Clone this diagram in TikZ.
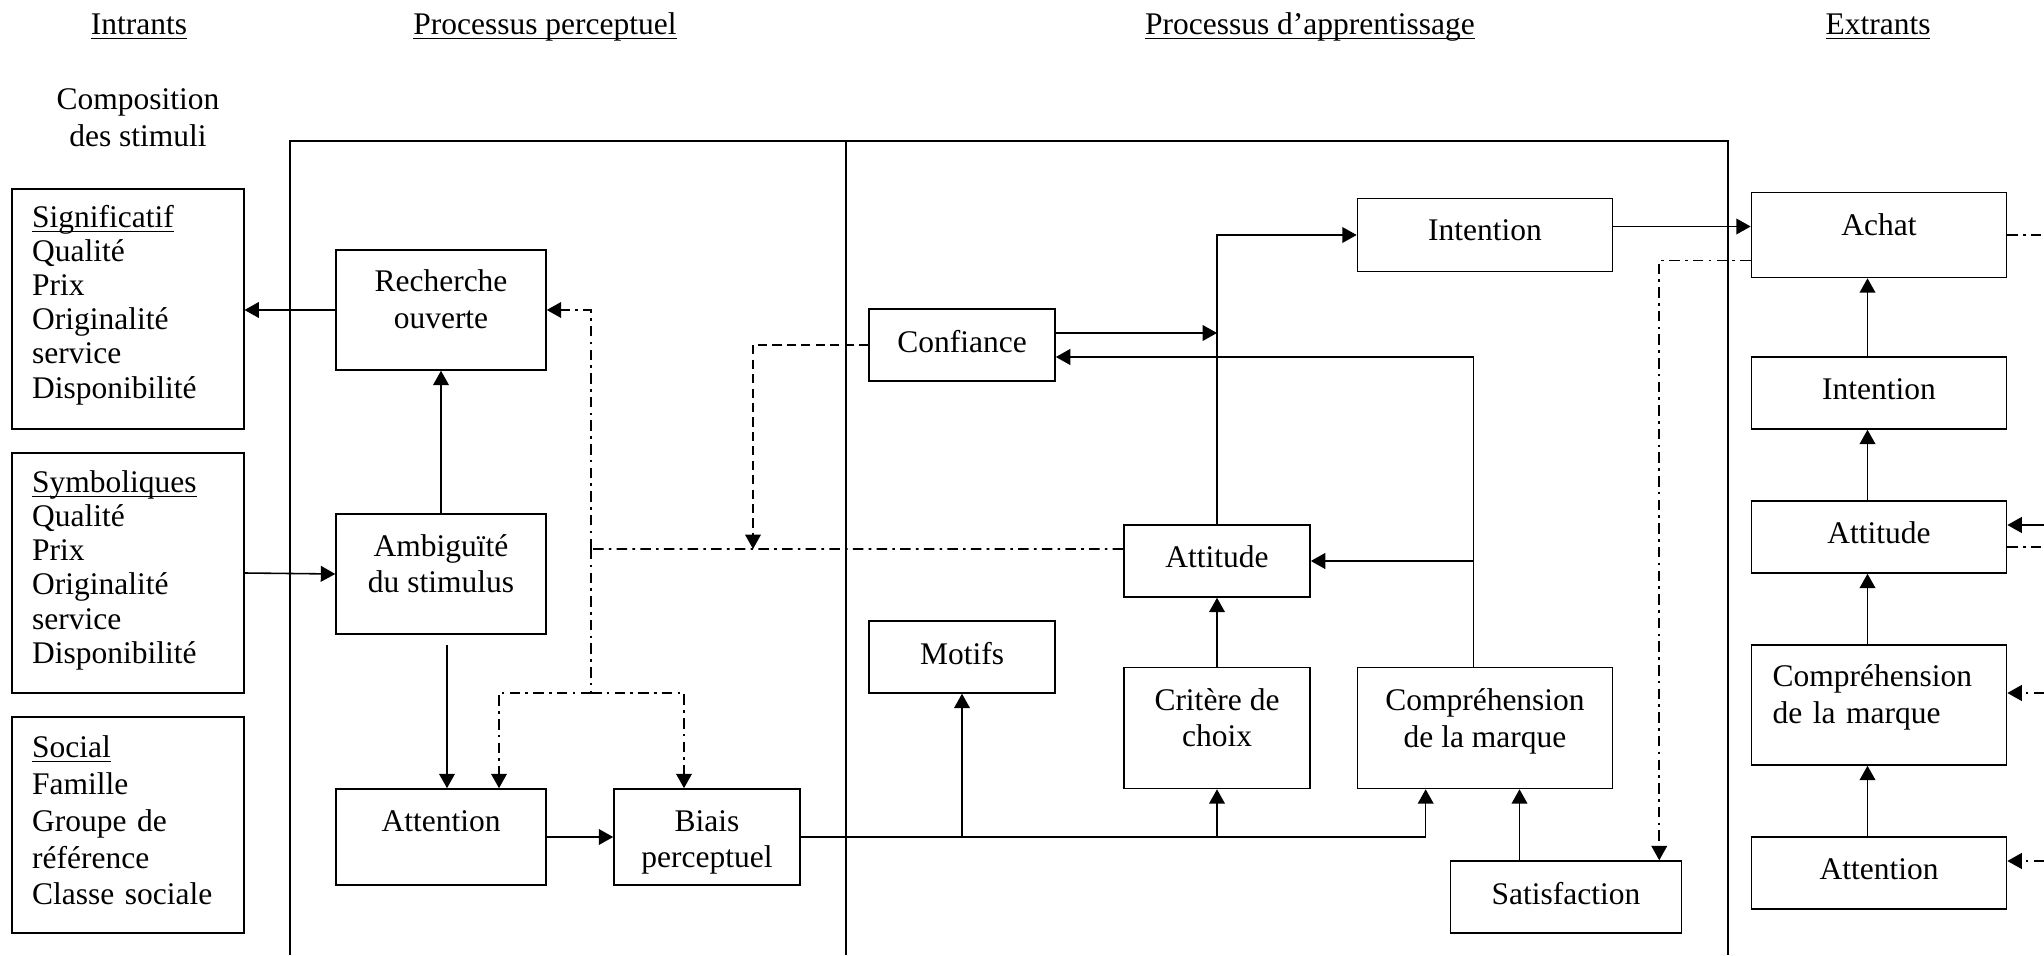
\documentclass[tikz,border=0pt]{standalone}
\usepackage{fontspec}
\setmainfont{Liberation Serif}
\usetikzlibrary{arrows.meta,calc}

\newcommand\souligne[1]{\underline{\raisebox{0pt}[\height][0pt]{#1}}}
\newcommand\fond[1]{\rule[-#1]{0pt}{#1}}

\begin{document}
\begin{tikzpicture}[x=1.3393cm, y=1.3393cm,
        font=\fontsize{12}{14}\selectfont,
        boite/.style={draw, line width=0.6pt, inner sep=0pt, align=center},
        liste/.style={draw, line width=0.6pt, inner xsep=7.6pt, inner ysep=0pt,
            text width=73pt, align=left, minimum height=#1, font=\fontsize{12}{13}\selectfont},
        lien/.style={line width=0.6pt},
        arr/.style={line width=0.6pt, -{Triangle[length=5.5pt,width=6pt]}},
        tiret/.style={line width=0.6pt, dash pattern=on 3.5pt off 2pt},
        tpoint/.style={line width=0.6pt, dash pattern=on 4pt off 2pt on 1pt off 2pt}]
        \useasboundingbox (0,0) rectangle (20.44,9.55);

        % cadre
        \draw [lien] (2.90,0) -- (2.90,8.14) -- (17.28,8.14) -- (17.28,0);
        \draw [lien] (8.46,0) -- (8.46,8.14);

        % titres
        \node [anchor=base] (titin) at (1.39,9.20) {\souligne{Intrants}};
        \node [anchor=base] (titperc) at (5.45,9.20) {\souligne{Processus perceptuel}};
        \node [anchor=base] (titapp) at (13.10,9.20) {\souligne{Processus d’apprentissage}};
        \node [anchor=base] (titext) at (18.78,9.20) {\souligne{Extrants}};
        \node [align=center] (compo) at (1.38,8.37) {Composition\\des stimuli};

        % intrants
        \node [liste=91.4pt] (sig) at (1.28,6.46) {\souligne{Significatif}\\Qualité\\Prix\\Originalité\\service\\Disponibilité\fond{5.6pt}};
        \node [liste=91.4pt] (sym) at (1.28,3.82) {\souligne{Symboliques}\\Qualité\\Prix\\Originalité\\service\\Disponibilité\fond{4.6pt}};
        \node [liste=82.3pt, font=\fontsize{12}{14}\selectfont] (soc) at (1.28,1.30) {\souligne{Social}\\Famille\\Groupe de\\référence\\Classe sociale\fond{3.4pt}};

        % processus perceptuel
        \node [boite, minimum width=80pt, minimum height=45.7pt] (rech) at (4.41,6.45) {Recherche\\ouverte\fond{8.5pt}};
        \node [boite, minimum width=80pt, minimum height=45.7pt] (ambig) at (4.41,3.81) {Ambiguïté\\du stimulus\fond{8pt}};
        \node [boite, minimum width=80pt, minimum height=36.6pt] (attp) at (4.41,1.18) {Attention\fond{12pt}};
        \node [boite, minimum width=70.9pt, minimum height=36.6pt] (biais) at (7.07,1.18) {\rule{0pt}{12pt}Biais\\perceptuel};

        % processus d'apprentissage
        \node [boite, minimum width=70.9pt, minimum height=27.4pt] (conf) at (9.62,6.10) {Confiance\fond{3pt}};
        \node [boite, minimum width=70.9pt, minimum height=27.4pt] (motifs) at (9.62,2.98) {Motifs\fond{3pt}};
        \node [boite, minimum width=97.2pt, minimum height=27.8pt] (intm) at (14.85,7.20) {Intention\fond{4pt}};
        \node [boite, minimum width=70.9pt, minimum height=27.4pt] (attm) at (12.17,3.94) {Attitude\fond{3pt}};
        \node [boite, minimum width=70.9pt, minimum height=46.1pt] (crit) at (12.17,2.27) {Critère de\\choix\fond{8pt}};
        \node [boite, minimum width=97.2pt, minimum height=46.1pt] (compm) at (14.85,2.27) {Compréhension\\de la marque\fond{7.6pt}};
        \node [boite, minimum width=88pt, minimum height=27.4pt] (satis) at (15.66,0.58) {Satisfaction\fond{3pt}};

        % extrants
        \node [boite, minimum width=97.2pt, minimum height=32.4pt] (achat) at (18.79,7.20) {Achat\fond{8pt}};
        \node [boite, minimum width=97.2pt, minimum height=27.4pt] (intr) at (18.79,5.62) {Intention\fond{3pt}};
        \node [boite, minimum width=97.2pt, minimum height=27.4pt] (attr) at (18.79,4.18) {Attitude\fond{3pt}};
        \node [boite, minimum width=97.2pt, minimum height=45.7pt, text width=81pt, align=left, inner xsep=8pt] (compr) at (18.79,2.50) {Compréhension\\de la marque\fond{8.6pt}};
        \node [boite, minimum width=97.2pt, minimum height=27.4pt] (attnr) at (18.79,0.82) {Attention\fond{3pt}};

        \coordinate (bord) at (20.44,0);
        \coordinate (fbl) at (5.91,4.06);
        \coordinate (fork) at (5.91,2.62);
        \coordinate (confbas) at (7.53,4.06);
        \coordinate (confout) at ($(conf.east)+(0,0.12)$);
        \coordinate (compup) at ($(compm.north)+(-0.115,0)$);
        \coordinate (satup) at ($(satis.north)+(-0.465,0)$);

        % fleches pleines
        \draw [arr] (rech.west) -- (sig.east |- rech.west);
        \draw [arr] (sym.east) -- (ambig.west);
        \draw [arr] (ambig.north) -- (rech.south);
        \draw [arr] ($(ambig.south)+(0.06,-0.10)$) -- ($(attp.north)+(0.06,0)$);
        \draw [arr] (attp.east) -- (biais.west);
        \draw [arr] (biais.east) -| ($(compm.south west)+(0.69,0)$);
        \draw [arr] (motifs.south |- biais.east) -- (motifs.south);
        \draw [arr] (crit.south |- biais.east) -- (crit.south);
        \draw [arr] (crit.north) -- (attm.south);
        \draw [arr] (satup) -- (satup |- compm.south);
        \draw [arr] (attm.north) |- (intm.west);
        \draw [arr] (confout) -- (attm.north |- confout);
        \draw [arr] (compup) |- ($(conf.east)+(0,-0.12)$);
        \draw [arr] (compup |- attm.east) -- (attm.east);
        \draw [arr] ($(intm.east)+(0,0.085)$) -- ($(achat.west)+(0,0.085)$);
        \foreach \a/\b in {attnr/compr, compr/attr, attr/intr, intr/achat}
            \draw [arr] ($(\a.north)+(-0.115,0)$) -- ($(\b.south)+(-0.115,0)$);

        % retours
        \draw [tpoint] ($(attm.west)+(0,0.12)$) -- (fbl);
        \draw [tpoint, arr] (fbl) |- (rech.east);
        \draw [tpoint] (fbl) -- (fork);
        \draw [tpoint, arr] (fork) -| ($(attp.north)+(0.58,0)$);
        \draw [tpoint, arr] (fork) -| ($(biais.north)+(-0.23,0)$);
        \draw [tiret, arr] (conf.west) -| (confbas);
        \draw [tpoint, arr] ($(achat.west)+(0,-0.255)$) -| ($(satis.north east)+(-0.23,0)$);

        % bord droit
        \draw [tpoint] (achat.east) -- (achat.east -| bord);
        \draw [arr] ($(attr.east -| bord)+(0,0.12)$) -- ($(attr.east)+(0,0.12)$);
        \draw [tpoint] ($(attr.east)+(0,-0.10)$) -- ($(attr.east -| bord)+(0,-0.10)$);
        \draw [tpoint, arr] ($(compr.east -| bord)+(0,0.12)$) -- ($(compr.east)+(0,0.12)$);
        \draw [tpoint, arr] ($(attnr.east -| bord)+(0,0.12)$) -- ($(attnr.east)+(0,0.12)$);
\end{tikzpicture}
\end{document}
